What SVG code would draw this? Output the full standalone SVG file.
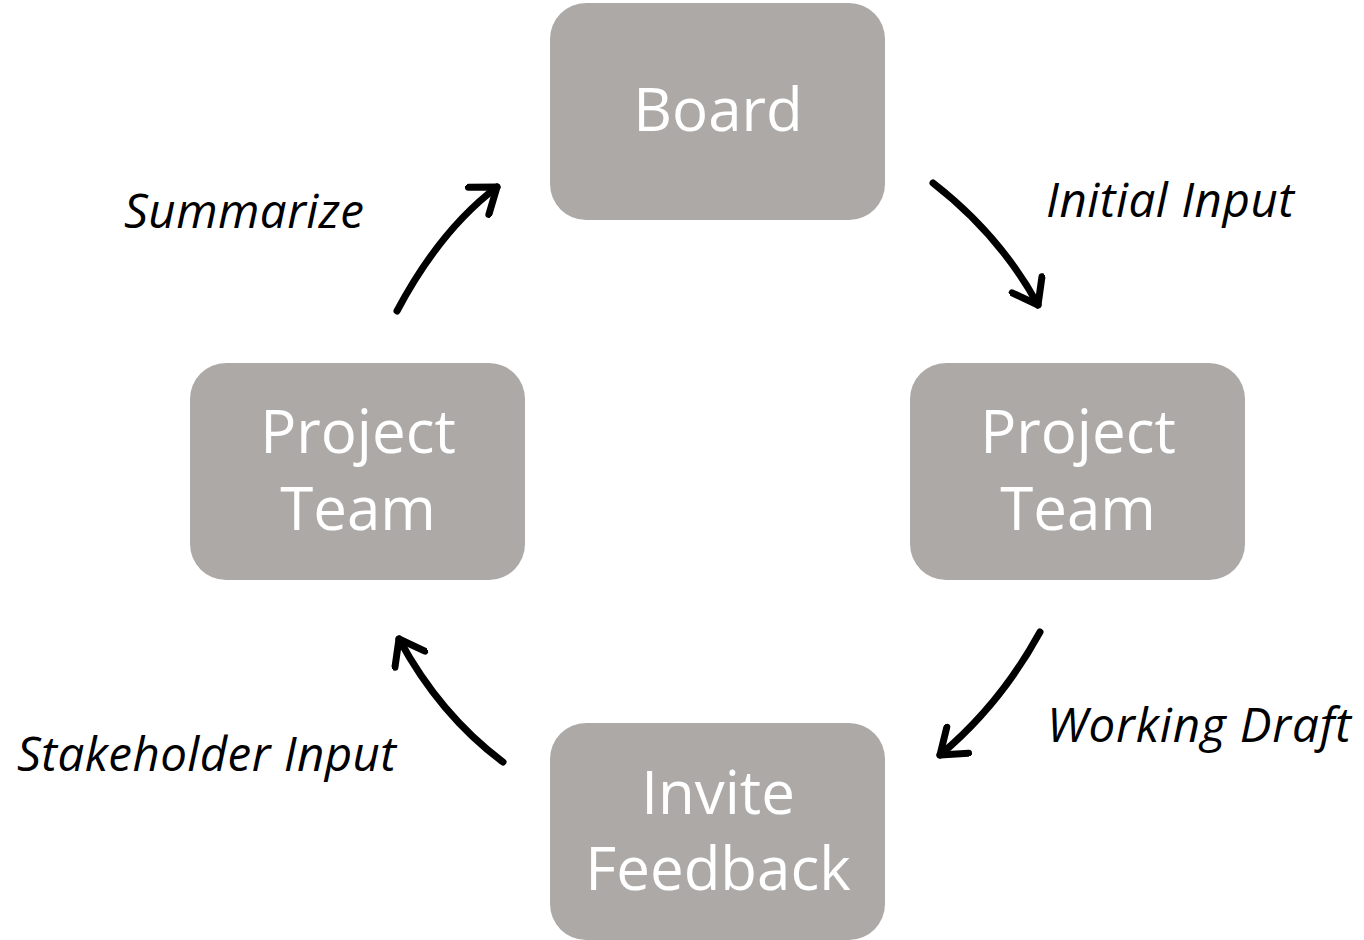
<svg xmlns="http://www.w3.org/2000/svg" width="1364" height="940" viewBox="0 0 1364 940">
  <style>
    .box { fill: #ada9a7; }
    .nodetext { font-family: "Open Sans", "Noto Sans", sans-serif; font-size: 60px; fill: #ffffff; text-anchor: middle; }
    .label { font-family: "Open Sans", "Noto Sans", sans-serif; font-size: 47.5px; font-style: italic; fill: #000000; }
    .conn { fill: none; stroke: #000000; stroke-width: 7; stroke-linecap: round; }
  </style>
  <defs>
    <marker id="chevron" markerUnits="userSpaceOnUse" viewBox="-30 -20 40 40" refX="0" refY="0" markerWidth="40" markerHeight="40" orient="auto">
      <path d="M-23,-17 L0,0 L-23,17" fill="none" stroke="#000000" stroke-width="7" stroke-linecap="round" stroke-linejoin="round"/>
    </marker>
  </defs>

  <g id="node-board">
    <rect class="box" x="550" y="3" width="335" height="217" rx="36"/>
    <text class="nodetext" x="718" y="131">Board</text>
  </g>
  <g id="node-project-team-right">
    <rect class="box" x="910" y="363" width="335" height="217" rx="36"/>
    <text class="nodetext" x="1078" y="453">Project</text>
    <text class="nodetext" x="1078" y="530">Team</text>
  </g>
  <g id="node-invite-feedback">
    <rect class="box" x="550" y="723" width="335" height="217" rx="36"/>
    <text class="nodetext" x="718" y="814">Invite</text>
    <text class="nodetext" x="718" y="890">Feedback</text>
  </g>
  <g id="node-project-team-left">
    <rect class="box" x="190" y="363" width="335" height="217" rx="36"/>
    <text class="nodetext" x="358" y="453">Project</text>
    <text class="nodetext" x="358" y="530">Team</text>
  </g>

  <g id="connectors">
    <path class="conn" d="M933,183 Q1000,235 1038,305" marker-end="url(#chevron)"/>
    <path class="conn" d="M1040,632 Q1000,705 940,755" marker-end="url(#chevron)"/>
    <path class="conn" d="M503,762 Q440,715 399,639" marker-end="url(#chevron)"/>
    <path class="conn" d="M397,311 Q440,230 497,187" marker-end="url(#chevron)"/>
  </g>

  <g id="labels">
    <text class="label" x="1046" y="217" textLength="248">Initial Input</text>
    <text class="label" x="1047" y="742" textLength="304">Working Draft</text>
    <text class="label" x="17" y="771" textLength="379">Stakeholder Input</text>
    <text class="label" x="124" y="228" textLength="240">Summarize</text>
  </g>
</svg>
